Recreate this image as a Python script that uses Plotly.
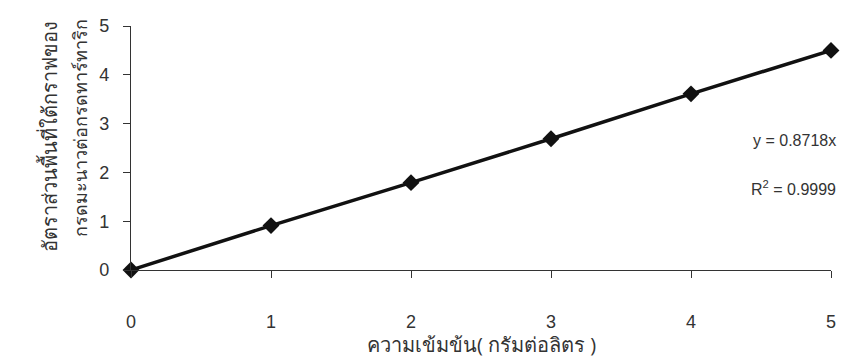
import plotly.graph_objects as go

# Concentration (g/L) and peak-area ratio of citric acid to tartaric acid
concentration = [0, 1, 2, 3, 4, 5]
area_ratio = [0, 0.91, 1.79, 2.69, 3.61, 4.50]

x_ticks = [0, 1, 2, 3, 4, 5]
y_ticks = [0, 1, 2, 3, 4, 5]

x_title = "ความเข้มข้น( กรัมต่อลิตร )"
y_title_lines = ["อัตราส่วนพื้นที่ใต้กราฟของ", "กรดมะนาวต่อกรดทาร์ทาริก"]
equation = "y = 0.8718x"
r_squared = "R<sup>2</sup> = 0.9999"

W, H = 845, 359
L, R, T, B = 131, 9, 26, 89
plot_w = W - L - R
plot_h = H - T - B


def px_x(p):
    return (p - L) / plot_w


def px_y(q):
    return (H - B - q) / plot_h


fig = go.Figure()
fig.add_trace(go.Scatter(
    x=concentration, y=area_ratio,
    mode="lines+markers",
    line=dict(color="#111111", width=3.5),
    marker=dict(symbol="diamond", size=13, color="#111111"),
    cliponaxis=False,
    showlegend=False,
))

tick_font = dict(family="Liberation Sans, Arial, sans-serif", size=18, color="#333333")

fig.update_layout(
    width=W, height=H,
    margin=dict(l=L, r=R, t=T, b=B),
    paper_bgcolor="white", plot_bgcolor="white",
    xaxis=dict(
        range=[0, 5], tickvals=x_ticks,
        showgrid=False, zeroline=False,
        showline=True, linecolor="#333333", linewidth=1.3,
        ticks="outside", ticklen=7, tickcolor="#333333", tickwidth=1.3,
        tickfont=tick_font, ticklabelstandoff=28,
    ),
    yaxis=dict(
        range=[0, 5], tickvals=y_ticks,
        showgrid=False, zeroline=False,
        showline=True, linecolor="#333333", linewidth=1.3,
        ticks="outside", ticklen=7, tickcolor="#333333", tickwidth=1.3,
        tickfont=tick_font, ticklabelstandoff=10,
    ),
)

annots = [
    dict(text=x_title, x=0.5, y=px_y(344), xanchor="center", yanchor="middle",
         font=dict(size=20, color="#333333")),
    dict(text=y_title_lines[0], x=px_x(48), y=px_y(136), textangle=-90,
         xanchor="center", yanchor="middle", font=dict(size=20, color="#333333")),
    dict(text=y_title_lines[1], x=px_x(80), y=px_y(128), textangle=-90,
         xanchor="center", yanchor="middle", font=dict(size=18, color="#333333")),
    dict(text=equation, x=px_x(843), y=px_y(140), xanchor="right", yanchor="middle",
         font=dict(family="Liberation Sans, Arial, sans-serif", size=16, color="#333333")),
    dict(text=r_squared, x=px_x(843), y=px_y(188), xanchor="right", yanchor="middle",
         font=dict(family="Liberation Sans, Arial, sans-serif", size=16, color="#333333")),
]
for a in annots:
    fig.add_annotation(xref="paper", yref="paper", showarrow=False, **a)

fig.write_html("out.html")
